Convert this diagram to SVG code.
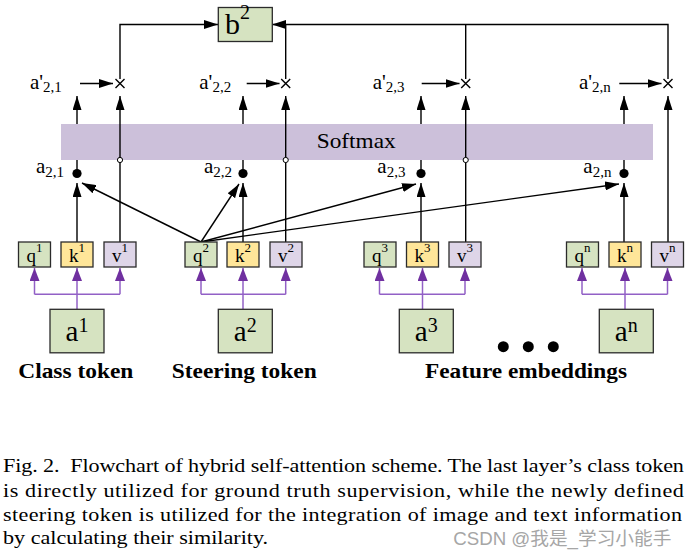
<svg xmlns="http://www.w3.org/2000/svg" width="688" height="558" viewBox="0 0 688 558">
<style>
.t{font-family:"Liberation Serif","Times New Roman",serif;fill:#000}
.g{fill:#d6e3c1;stroke:#2b2b2b;stroke-width:1.3}
.y{fill:#ffe699;stroke:#2b2b2b;stroke-width:1.3}
.p{fill:#ded5e8;stroke:#2b2b2b;stroke-width:1.3}
.ln{stroke:#000;stroke-width:1.4;fill:none}
.pl{stroke:#9260c6;stroke-width:1.5;fill:none}
.box{font-size:19px}
.big{font-size:29px}
.lbl{font-size:21px}
.bold{font-size:22px;font-weight:bold}
.cap{font-size:19px}
</style>
<defs>
<marker id="ah" markerUnits="userSpaceOnUse" markerWidth="14" markerHeight="9" refX="14" refY="4.5" orient="auto"><path d="M0,0 L14,4.5 L0,9 z" fill="#000"/></marker>
<marker id="ph" markerUnits="userSpaceOnUse" markerWidth="13" markerHeight="10" refX="13" refY="5" orient="auto"><path d="M0,0 L13,5 L0,10 z" fill="#7030a0"/></marker>
</defs>
<rect width="688" height="558" fill="#fff"/>

<g id="softmax">
<rect x="61" y="124" width="592" height="36" fill="#ccc0da"/>
<text class="t" x="316.7" y="148" font-size="21.5" textLength="79" lengthAdjust="spacingAndGlyphs">Softmax</text>
</g>

<g id="connectors">
<path class="ln" d="M120,79 V24.5 H218" marker-end="url(#ah)"/>
<path class="ln" d="M668,79 V24.5 H272" marker-end="url(#ah)"/>
<path class="ln" d="M285.7,79 V24.5"/>
<path class="ln" d="M465.7,79 V24.5"/>
<path class="ln" d="M120,242 V96" marker-end="url(#ah)"/>
<path class="ln" d="M285.7,242 V96" marker-end="url(#ah)"/>
<path class="ln" d="M465.7,242 V96" marker-end="url(#ah)"/>
<path class="ln" d="M668,242 V96" marker-end="url(#ah)"/>
<path class="ln" d="M77,124 V96" marker-end="url(#ah)"/>
<path class="ln" d="M243,124 V96" marker-end="url(#ah)"/>
<path class="ln" d="M421,124 V96" marker-end="url(#ah)"/>
<path class="ln" d="M624,124 V96" marker-end="url(#ah)"/>
<path class="ln" d="M80,83.5 H113" marker-end="url(#ah)"/>
<path class="ln" d="M246.7,83.5 H279.5" marker-end="url(#ah)"/>
<path class="ln" d="M421.7,83.5 H459.5" marker-end="url(#ah)"/>
<path class="ln" d="M619.3,83.5 H661.5" marker-end="url(#ah)"/>
<path class="ln" d="M77,160 V170 M243,160 V170 M421,160 V170 M624,160 V170"/>
<path class="ln" d="M77,242 V183" marker-end="url(#ah)"/>
<path class="ln" d="M243,242 V183" marker-end="url(#ah)"/>
<path class="ln" d="M421,242 V183" marker-end="url(#ah)"/>
<path class="ln" d="M624,242 V183" marker-end="url(#ah)"/>
<path class="ln" d="M201,242 L82,183" marker-end="url(#ah)"/>
<path class="ln" d="M201,242 L239,184" marker-end="url(#ah)"/>
<path class="ln" d="M201,242 L416,184" marker-end="url(#ah)"/>
<path class="ln" d="M201,242 L619,184" marker-end="url(#ah)"/>
<path class="pl" d="M34.5,294.3 H120 M201,294.3 H285.7 M379.5,294.3 H465 M582,294.3 H667.5"/>
<path class="pl" d="M34.5,294.3 V268" marker-end="url(#ph)"/>
<path class="pl" d="M77,309 V268" marker-end="url(#ph)"/>
<path class="pl" d="M120,294.3 V268" marker-end="url(#ph)"/>
<path class="pl" d="M201,294.3 V268" marker-end="url(#ph)"/>
<path class="pl" d="M243,309 V268" marker-end="url(#ph)"/>
<path class="pl" d="M285.7,294.3 V268" marker-end="url(#ph)"/>
<path class="pl" d="M379.5,294.3 V268" marker-end="url(#ph)"/>
<path class="pl" d="M422.5,309 V268" marker-end="url(#ph)"/>
<path class="pl" d="M465,294.3 V268" marker-end="url(#ph)"/>
<path class="pl" d="M582,294.3 V268" marker-end="url(#ph)"/>
<path class="pl" d="M625,309 V268" marker-end="url(#ph)"/>
<path class="pl" d="M667.5,294.3 V268" marker-end="url(#ph)"/>
<circle cx="120" cy="160" r="2.6" fill="#fff" stroke="#000" stroke-width="1"/>
<circle cx="285.7" cy="160" r="2.6" fill="#fff" stroke="#000" stroke-width="1"/>
<circle cx="465.7" cy="160" r="2.6" fill="#fff" stroke="#000" stroke-width="1"/>
</g>

<g id="b2">
<rect class="g" x="218.3" y="7.5" width="54" height="34"/>
<text class="t" x="225" y="33.5" font-size="30">b<tspan dy="-15" font-size="20">2</tspan></text>
</g>

<g id="mult" stroke="#000" stroke-width="1.4">
<path d="M115.5,79 L124.5,88 M124.5,79 L115.5,88"/>
<path d="M281.2,79 L290.2,88 M290.2,79 L281.2,88"/>
<path d="M461.2,79 L470.2,88 M470.2,79 L461.2,88"/>
<path d="M663.5,79 L672.5,88 M672.5,79 L663.5,88"/>
</g>

<g id="aprime">
<text class="t lbl" x="30" y="89">a'<tspan dy="2.5" font-size="15">2,1</tspan></text>
<text class="t lbl" x="199.3" y="89">a'<tspan dy="2.5" font-size="15">2,2</tspan></text>
<text class="t lbl" x="372.7" y="89">a'<tspan dy="2.5" font-size="15">2,3</tspan></text>
<text class="t lbl" x="579" y="89">a'<tspan dy="2.5" font-size="15">2,n</tspan></text>
</g>

<g id="scores">
<circle cx="77" cy="173.5" r="4.6"/>
<circle cx="243" cy="173.5" r="4.6"/>
<circle cx="421" cy="173.5" r="4.6"/>
<circle cx="624" cy="173.5" r="4.6"/>
<text class="t lbl" x="36" y="172.7">a<tspan dy="4" font-size="15">2,1</tspan></text>
<text class="t lbl" x="204" y="172.7">a<tspan dy="4" font-size="15">2,2</tspan></text>
<text class="t lbl" x="377.3" y="172.7">a<tspan dy="4" font-size="15">2,3</tspan></text>
<text class="t lbl" x="583.3" y="172.7">a<tspan dy="4" font-size="15">2,n</tspan></text>
</g>

<g id="token1">
<rect class="g" x="18.5" y="242" width="32" height="25"/>
<rect class="y" x="61" y="242" width="32" height="25"/>
<rect class="p" x="104" y="242" width="32" height="25"/>
<text class="t box" x="34.5" y="262" text-anchor="middle">q<tspan dy="-10" font-size="13">1</tspan></text>
<text class="t box" x="77" y="262" text-anchor="middle">k<tspan dy="-10" font-size="13">1</tspan></text>
<text class="t box" x="120" y="262" text-anchor="middle">v<tspan dy="-10" font-size="13">1</tspan></text>
<rect class="g" x="50" y="309.3" width="54" height="43.5"/>
<text class="t big" x="77" y="341" text-anchor="middle">a<tspan dy="-9.5" font-size="20">1</tspan></text>
<text class="t bold" x="18.3" y="378.3" textLength="115" lengthAdjust="spacingAndGlyphs">Class token</text>
</g>

<g id="token2">
<rect class="g" x="185" y="242" width="32" height="25"/>
<rect class="y" x="227" y="242" width="32" height="25"/>
<rect class="p" x="270" y="242" width="32" height="25"/>
<text class="t box" x="201" y="262" text-anchor="middle">q<tspan dy="-10" font-size="13">2</tspan></text>
<text class="t box" x="243" y="262" text-anchor="middle">k<tspan dy="-10" font-size="13">2</tspan></text>
<text class="t box" x="286" y="262" text-anchor="middle">v<tspan dy="-10" font-size="13">2</tspan></text>
<rect class="g" x="218.3" y="309.3" width="54" height="43.5"/>
<text class="t big" x="245.3" y="341" text-anchor="middle">a<tspan dy="-9.5" font-size="20">2</tspan></text>
<text class="t bold" x="171.7" y="378.3" textLength="145" lengthAdjust="spacingAndGlyphs">Steering token</text>
</g>

<g id="token3">
<rect class="g" x="364" y="242" width="32" height="25"/>
<rect class="y" x="406.5" y="242" width="32" height="25"/>
<rect class="p" x="449" y="242" width="32" height="25"/>
<text class="t box" x="380" y="262" text-anchor="middle">q<tspan dy="-10" font-size="13">3</tspan></text>
<text class="t box" x="422.5" y="262" text-anchor="middle">k<tspan dy="-10" font-size="13">3</tspan></text>
<text class="t box" x="465" y="262" text-anchor="middle">v<tspan dy="-10" font-size="13">3</tspan></text>
<rect class="g" x="399.3" y="309.3" width="54" height="43.5"/>
<text class="t big" x="426.3" y="341" text-anchor="middle">a<tspan dy="-9.5" font-size="20">3</tspan></text>
</g>

<g id="tokenn">
<rect class="g" x="566.5" y="242" width="32" height="25"/>
<rect class="y" x="609" y="242" width="32" height="25"/>
<rect class="p" x="651.5" y="242" width="32" height="25"/>
<text class="t box" x="582.5" y="262" text-anchor="middle">q<tspan dy="-10" font-size="13">n</tspan></text>
<text class="t box" x="625" y="262" text-anchor="middle">k<tspan dy="-10" font-size="13">n</tspan></text>
<text class="t box" x="667.5" y="262" text-anchor="middle">v<tspan dy="-10" font-size="13">n</tspan></text>
<rect class="g" x="599.3" y="309.3" width="54" height="43.5"/>
<text class="t big" x="626.3" y="341" text-anchor="middle">a<tspan dy="-9.5" font-size="20">n</tspan></text>
</g>

<g id="ellipsis">
<circle cx="503.3" cy="346.7" r="5.5"/>
<circle cx="528.3" cy="346.7" r="5.5"/>
<circle cx="553.3" cy="346.7" r="5.5"/>
<text class="t bold" x="425" y="378.3" textLength="202" lengthAdjust="spacingAndGlyphs">Feature embeddings</text>
</g>

<g id="caption">
<g transform="translate(3,0) scale(1.165,1)">
<text class="t cap" x="0" y="472.3" textLength="584.5" lengthAdjust="spacing" xml:space="preserve">Fig. 2.  Flowchart of hybrid self-attention scheme. The last layer’s class token</text>
<text class="t cap" x="0" y="496.7" textLength="584.5" lengthAdjust="spacing">is directly utilized for ground truth supervision, while the newly defined</text>
<text class="t cap" x="0" y="521" textLength="582.8" lengthAdjust="spacing">steering token is utilized for the integration of image and text information</text>
<text class="t cap" x="0" y="544.3">by calculating their similarity.</text>
</g>
<text x="453.3" y="545" font-family="'Liberation Sans','Noto Sans CJK SC',sans-serif" font-size="18" fill="#a6a6a6" textLength="218" lengthAdjust="spacingAndGlyphs">CSDN @我是_学习小能手</text>
</g>
</svg>
